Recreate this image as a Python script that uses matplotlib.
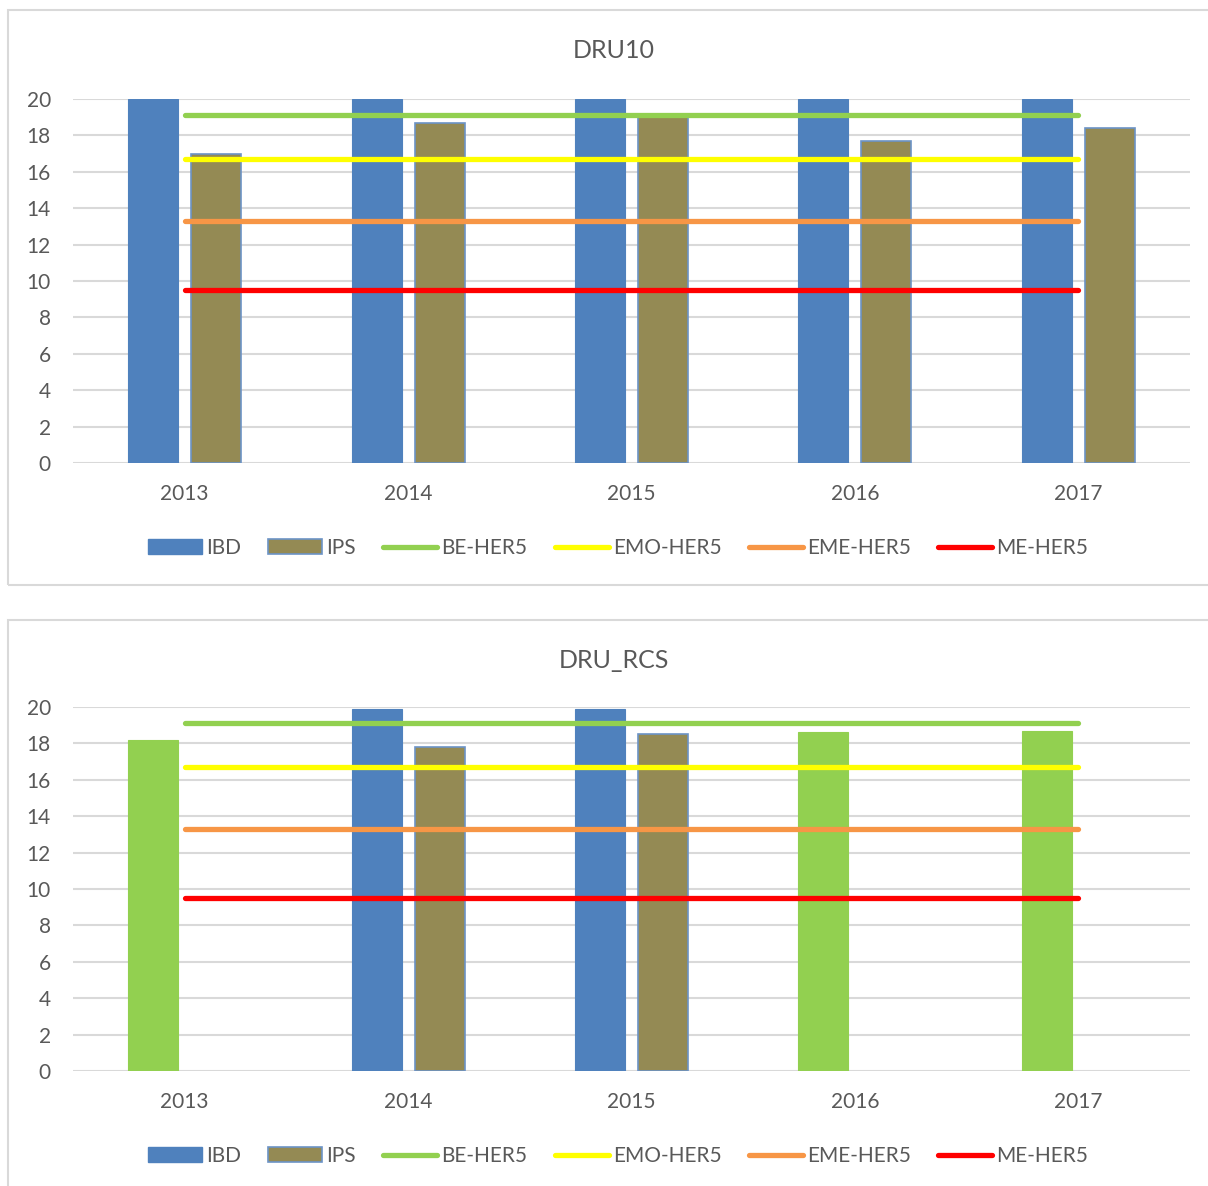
import matplotlib
matplotlib.use("Agg")
import matplotlib.pyplot as plt
import numpy as np
from matplotlib.patches import Rectangle, Patch
from matplotlib.lines import Line2D

plt.rcParams['font.family'] = ['Lato', 'DejaVu Sans']

years = ['2013', '2014', '2015', '2016', '2017']

# DRU10
dru10_ibd = [20, 20, 20, 20, 20]
dru10_ips = [17.0, 18.7, 19.2, 17.7, 18.4]

# DRU_RCS (years without IPS have their IBD bar shown in green)
rcs_ibd = [18.2, 19.9, 19.9, 18.6, 18.7]
rcs_ibd_green = [True, False, False, True, True]
rcs_ips = [np.nan, 17.8, 18.5, np.nan, np.nan]

# reference thresholds
thr_names = ['BE-HER5', 'EMO-HER5', 'EME-HER5', 'ME-HER5']
thr_values = [19.1, 16.7, 13.3, 9.5]
thr_colors = ['#92D050', '#FFFF00', '#F79646', '#FF0000']

BLUE = '#4F81BD'
OLIVE = '#948A54'
GREEN = '#92D050'
TXT = '#595959'
GRID = '#D9D9D9'
FS = 15

W, H = 1208, 1186
fig = plt.figure(figsize=(W / 100, H / 100), dpi=100)


def fx(px):
    return px / W


def fy(py):
    return 1 - py / H


def draw_chart(top_px, bot_px, box_top, box_bot, title, ibd, ips, ibd_colors):
    # chart frame
    fig.add_artist(Rectangle((fx(8), fy(box_bot)), fx(1215) - fx(8), fy(box_top) - fy(box_bot),
                             transform=fig.transFigure, fill=False, edgecolor=GRID, lw=1.5))
    ax = fig.add_axes([fx(73), fy(bot_px), fx(1190) - fx(73), fy(top_px) - fy(bot_px)])
    x = np.arange(len(years))
    w = 0.224
    ax.bar(x - 0.141, ibd, w, color=ibd_colors, edgecolor=ibd_colors, lw=0.8, zorder=2)
    ax.bar(x + 0.141, ips, w, color=OLIVE, edgecolor='#6C93C6', lw=1.2, zorder=2)
    for name, v, c in zip(thr_names, thr_values, thr_colors):
        ax.plot(x, [v] * len(x), color=c, lw=3.8, solid_capstyle='round', zorder=3)
    ax.set_xlim(-0.5, len(years) - 0.5)
    ax.set_ylim(0, 20)
    ax.set_yticks(range(0, 21, 2))
    ax.set_xticks(x)
    ax.set_xticklabels(years)
    ax.yaxis.grid(True, color=GRID, lw=1.5, zorder=0)
    ax.set_axisbelow(True)
    for s in ax.spines.values():
        s.set_visible(False)
    ax.tick_params(length=0, labelsize=FS, labelcolor=TXT)
    ax.tick_params(axis='x', pad=15)
    ax.tick_params(axis='y', pad=16)
    fig.text(fx(614), fy(box_top + 40), title, ha='center', va='center', fontsize=18, color=TXT)

    handles = [Patch(facecolor=BLUE, edgecolor=BLUE),
               Patch(facecolor=OLIVE, edgecolor='#6C93C6', lw=1.2)]
    handles += [Line2D([], [], color=c, lw=3.8, solid_capstyle='round') for c in thr_colors]
    fig.legend(handles, ['IBD', 'IPS'] + thr_names, loc='center', ncol=6, frameon=False,
               bbox_to_anchor=(fx(618), fy(bot_px + 85)), fontsize=FS, labelcolor=TXT,
               handlelength=2.6, handletextpad=0.2, columnspacing=1.3, handleheight=0.7)
    return ax


draw_chart(99, 463, 10, 585, 'DRU10', dru10_ibd, dru10_ips, [BLUE] * 5)
draw_chart(707, 1071, 620, 1200, 'DRU_RCS', rcs_ibd, rcs_ips,
           [GREEN if g else BLUE for g in rcs_ibd_green])

fig.savefig('out.png', dpi=100, facecolor='white')
